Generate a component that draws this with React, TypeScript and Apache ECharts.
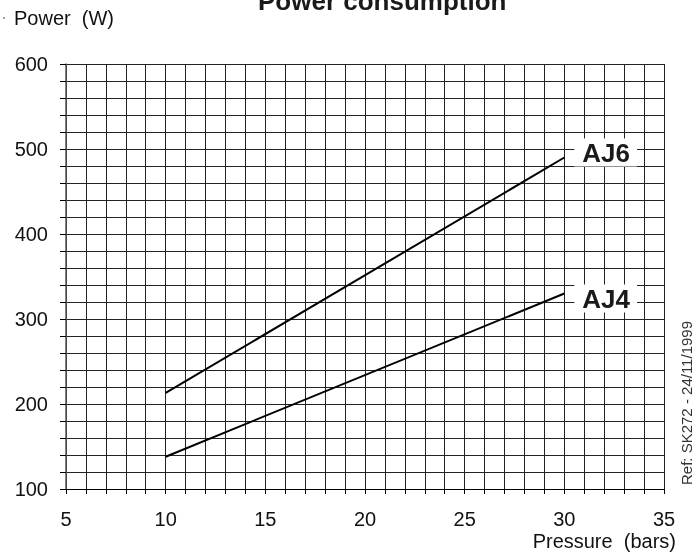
import React, { useEffect, useRef } from "react";
import * as echarts from "echarts";

const pressure = [10, 30];
const aj6Power = [213, 490];
const aj4Power = [138, 330];
const xLabelValues = [5, 10, 15, 20, 25, 30, 35];
const yLabelValues = [100, 200, 300, 400, 500, 600];
const seriesNames = ["AJ6", "AJ4"];

const FONT = "'Liberation Sans', Arial, sans-serif";

export default function App() {
  const ref = useRef<HTMLDivElement>(null);
  useEffect(() => {
    if (!ref.current) return;
    const chart = echarts.init(ref.current, undefined, { renderer: "svg" });
    const mk = (name: string, ys: number[], dy: number) => ({
      type: "line",
      name,
      data: pressure.map((x, i) => [x, ys[i]]),
      symbol: "none",
      lineStyle: { color: "#000", width: 2 },
      z: 5,
      endLabel: {
        show: true,
        formatter: name,
        fontFamily: FONT,
        fontSize: 26,
        fontWeight: "bold",
        color: "#1a1a1a",
        backgroundColor: "#fff",
        padding: [2, 7, 0, 8],
        distance: 10,
        offset: [0, dy],
      },
    });
    chart.setOption({
      animation: false,
      grid: { left: 66, right: 35, top: 64, bottom: 64 },
      xAxis: {
        type: "value",
        min: 5,
        max: 35,
        interval: 1,
        axisLine: { show: true, lineStyle: { color: "#000", width: 1 } },
        axisTick: { show: true, inside: false, length: 5, lineStyle: { color: "#000" } },
        axisLabel: {
          margin: 20,
          fontFamily: FONT,
          fontSize: 20,
          color: "#111",
          showMinLabel: true,
          showMaxLabel: true,
          formatter: (v: number) => (xLabelValues.includes(v) ? String(v) : ""),
        },
        splitLine: { show: true, lineStyle: { color: "#222", width: 1 } },
      },
      yAxis: {
        type: "value",
        min: 100,
        max: 600,
        interval: 20,
        axisLine: { show: true, lineStyle: { color: "#555", width: 1.5 } },
        axisTick: { show: true, inside: false, length: 6, lineStyle: { color: "#000" } },
        axisLabel: {
          margin: 18,
          fontFamily: FONT,
          fontSize: 20,
          color: "#111",
          formatter: (v: number) => (yLabelValues.includes(v) ? String(v) : ""),
        },
        splitLine: { show: true, lineStyle: { color: "#222", width: 1 } },
      },
      graphic: [
        {
          type: "text",
          x: 258,
          y: 1,
          style: {
            text: "Power consumption",
            font: `bold 26px ${FONT}`,
            fill: "#1a1a1a",
            verticalAlign: "middle",
          },
        },
        {
          type: "circle",
          shape: { cx: 4, cy: 18, r: 0.8 },
          style: { fill: "#666" },
        },
        {
          type: "text",
          x: 14,
          y: 18,
          style: { text: "Power  (W)", font: `20px ${FONT}`, fill: "#111", verticalAlign: "middle" },
        },
        {
          type: "text",
          x: 676,
          y: 541,
          style: {
            text: "Pressure  (bars)",
            font: `20px ${FONT}`,
            fill: "#111",
            align: "right",
            verticalAlign: "middle",
          },
        },
        {
          type: "text",
          x: 686,
          y: 403,
          rotation: Math.PI / 2,
          style: {
            text: "Ref: SK272 - 24/11/1999",
            font: `15px ${FONT}`,
            fill: "#333",
            align: "center",
            verticalAlign: "middle",
          },
        },
      ],
      series: [mk(seriesNames[0], aj6Power, -5), mk(seriesNames[1], aj4Power, 5)],
    });
    return () => chart.dispose();
  }, []);
  return (
    <div
      ref={ref}
      style={{ position: "fixed", left: 0, top: 0, width: 699, height: 553 }}
    />
  );
}
